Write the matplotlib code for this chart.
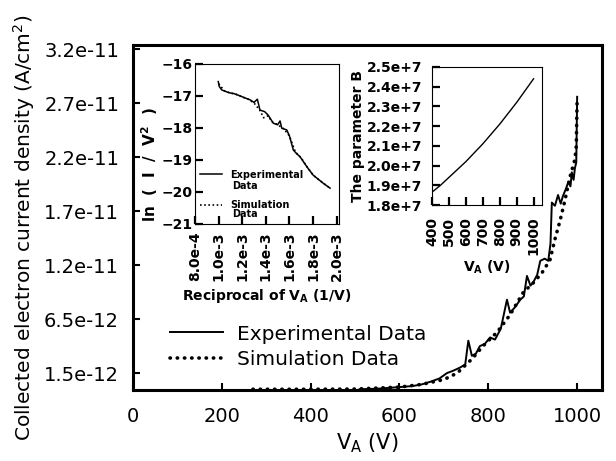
import numpy as np
import matplotlib
matplotlib.use('Agg')
import matplotlib.pyplot as plt

plt.rcParams['font.family'] = ['DejaVu Sans']
plt.rcParams['mathtext.fontset'] = 'dejavusans'

# main plot: collected current density vs anode voltage (J in 1e-12 A/cm^2)
exp_v = [510, 550, 600, 630, 650, 670, 690, 707, 720, 736, 748, 755, 763, 772, 781,
         792, 804, 815, 828, 842, 849, 860, 872, 880, 887, 895, 901, 910, 917, 927,
         935, 940, 943, 950, 957, 963, 968, 975, 980, 985, 988, 992, 995, 998, 1000]
exp_j = [0, 0.05, 0.2, 0.3, 0.45, 0.7, 1.0, 1.5, 1.7, 2.0, 2.3, 4.5, 3.1, 3.3, 4.0,
         4.2, 4.8, 4.6, 5.6, 8.3, 7.1, 7.6, 8.3, 8.6, 10.5, 9.6, 9.9, 10.6, 11.9, 12.1,
         11.9, 13.5, 17.3, 17.0, 18.0, 17.2, 17.9, 18.6, 19.2, 18.8, 20.1, 19.4, 20.5, 21.0, 27.1]
sim_v = [270, 400, 500, 600, 650, 700, 730, 763, 788, 820, 849, 879, 900, 921, 939,
         950, 962, 973, 984, 995, 998, 1000]
sim_j = [0, 0, 0.02, 0.2, 0.45, 0.9, 1.5, 2.8, 4.0, 5.3, 6.9, 9.0, 9.8, 10.8, 12.0,
         13.9, 15.7, 17.6, 19.7, 21.3, 22.5, 27.0]
y_ticks = [1.5e-12, 6.5e-12, 11.5e-12, 16.5e-12, 21.5e-12, 26.5e-12, 31.5e-12]
y_ticklabels = ['1.5e-12', '6.5e-12', '1.2e-11', '1.7e-11', '2.2e-11', '2.7e-11', '3.2e-11']

# inset 1: ln(I/V^2) vs 1/V (x in 1e-3 1/V)
fn_x = [0.997, 1.005, 1.026, 1.06, 1.09, 1.125, 1.17, 1.21, 1.266, 1.30, 1.328, 1.35,
        1.39, 1.42, 1.463, 1.50, 1.52, 1.535, 1.577, 1.60, 1.633, 1.66, 1.69, 1.747,
        1.80, 1.85, 1.887, 1.944]
fn_y = [-16.55, -16.7, -16.81, -16.86, -16.9, -16.92, -16.98, -17.04, -17.12, -17.2,
        -17.1, -17.44, -17.49, -17.6, -17.85, -17.9, -17.78, -18.01, -18.06, -18.25,
        -18.69, -18.8, -18.9, -19.21, -19.47, -19.62, -19.73, -19.88]
fn_sim_x = [1.0, 1.05, 1.1, 1.15, 1.2, 1.25, 1.3, 1.35, 1.38, 1.42, 1.45, 1.5, 1.55,
            1.6, 1.65, 1.7, 1.75, 1.8, 1.85, 1.9, 1.944]
fn_sim_y = [-16.62, -16.84, -16.91, -16.95, -17.03, -17.1, -17.22, -17.45, -17.68, -17.62,
            -17.8, -17.9, -18.02, -18.25, -18.75, -18.94, -19.22, -19.47, -19.62, -19.76, -19.88]

# inset 2: parameter B vs V_A (B in 1e7)
b_v = [400, 450, 500, 600, 700, 800, 900, 1000]
b_val = [1.865, 1.90, 1.94, 2.02, 2.11, 2.21, 2.32, 2.44]

fig = plt.figure(figsize=(6.16, 4.61), dpi=100)

ax = fig.add_axes([0.2159, 0.154, 0.7614, 0.7484])
ax.plot(exp_v, np.array(exp_j) * 1e-12, color='black', lw=1.4, label='Experimental Data')
ax.plot(sim_v, np.array(sim_j) * 1e-12, color='black', lw=2.6, linestyle=(0, (0.1, 1.9)),
        dash_capstyle='round', label='Simulation Data')
ax.set_xlim(0, 1056)
ax.set_ylim(-0.07e-12, 31.9e-12)
ax.set_xticks([0, 200, 400, 600, 800, 1000])
ax.set_yticks(y_ticks)
ax.set_yticklabels(y_ticklabels)
ax.tick_params(direction='in', length=5, width=1.5, labelsize=14)
ax.tick_params(axis='x', pad=12)
ax.tick_params(axis='y', pad=10)
for s in ax.spines.values():
    s.set_linewidth(2.2)
ax.set_xlabel(r'V$_{\mathrm{A}}$ (V)', fontsize=15, labelpad=4)
ax.set_ylabel(r'Collected electron current density (A/cm$^{2}$)', fontsize=14.5)
ax.yaxis.set_label_coords(-0.205, 0.471)
ax.legend(loc='upper left', bbox_to_anchor=(0.058, 0.219), frameon=False, fontsize=14.5,
          borderpad=0, handlelength=2.6, handletextpad=0.7, labelspacing=0.3)

# inset 1
ax1 = fig.add_axes([0.3166, 0.5141, 0.2338, 0.3471])
ax1.plot(np.array(fn_sim_x) * 1e-3, fn_sim_y, color='black', lw=1.2, linestyle=(0, (1, 1.5)),
         label='Simulation')
ax1.plot(np.array(fn_x) * 1e-3, fn_y, color='black', lw=1.1, label='Experimental')
ax1.set_xlim(8e-4, 2.02e-3)
ax1.set_ylim(-21, -16)
ax1.set_xticks([8e-4, 1.0e-3, 1.2e-3, 1.4e-3, 1.6e-3, 1.8e-3, 2.0e-3])
ax1.set_xticklabels(['8.0e-4', '1.0e-3', '1.2e-3', '1.4e-3', '1.6e-3', '1.8e-3', '2.0e-3'],
                    rotation=90)
ax1.set_yticks([-21, -20, -19, -18, -17, -16])
ax1.tick_params(direction='in', length=6, width=1.6, labelsize=10)
ax1.tick_params(axis='x', pad=5.5)
ax1.tick_params(axis='y', pad=1.5)
for lab in ax1.get_xticklabels() + ax1.get_yticklabels():
    lab.set_fontweight('bold')
ax1.set_xlabel(r'Reciprocal of V$_{\mathbf{A}}$ (1/V)', fontsize=10, fontweight='bold', labelpad=4)
ax1.set_ylabel(r'ln  (  I  /  V$^{\mathbf{2}}$  )', fontsize=11, fontweight='bold')
ax1.yaxis.set_label_coords(-0.245, 0.37)
h, l = ax1.get_legend_handles_labels()
ax1.legend(h[::-1], l[::-1], loc='upper left', bbox_to_anchor=(0.0, 0.37), frameon=False,
           prop={'size': 7, 'weight': 'bold'}, borderpad=0, handlelength=2.3,
           handletextpad=0.8, labelspacing=2.1)
ax1.text(0.26, 0.235, 'Data', transform=ax1.transAxes, fontsize=7, fontweight='bold', va='center')
ax1.text(0.26, 0.06, 'Data', transform=ax1.transAxes, fontsize=7, fontweight='bold', va='center')

# inset 2
ax2 = fig.add_axes([0.7013, 0.5553, 0.1786, 0.2994])
ax2.plot(b_v, np.array(b_val) * 1e7, color='black', lw=1.0)
ax2.set_xlim(400, 1050)
ax2.set_ylim(1.8e7, 2.5e7)
ax2.set_xticks([400, 500, 600, 700, 800, 900, 1000])
ax2.set_xticklabels(['400', '500', '600', '700', '800', '900', '1000'], rotation=90)
ax2.set_yticks([1.8e7, 1.9e7, 2.0e7, 2.1e7, 2.2e7, 2.3e7, 2.4e7, 2.5e7])
ax2.set_yticklabels(['1.8e+7', '1.9e+7', '2.0e+7', '2.1e+7', '2.2e+7', '2.3e+7', '2.4e+7', '2.5e+7'])
ax2.tick_params(direction='in', length=6, width=1.6, labelsize=10)
ax2.tick_params(axis='x', pad=8.5)
ax2.tick_params(axis='y', pad=7)
for lab in ax2.get_xticklabels() + ax2.get_yticklabels():
    lab.set_fontweight('bold')
ax2.set_xlabel(r'V$_{\mathbf{A}}$ (V)', fontsize=10, fontweight='bold', labelpad=2)
ax2.set_ylabel('The parameter B', fontsize=10, fontweight='bold', labelpad=1)

fig.savefig('out.png', dpi=100)
